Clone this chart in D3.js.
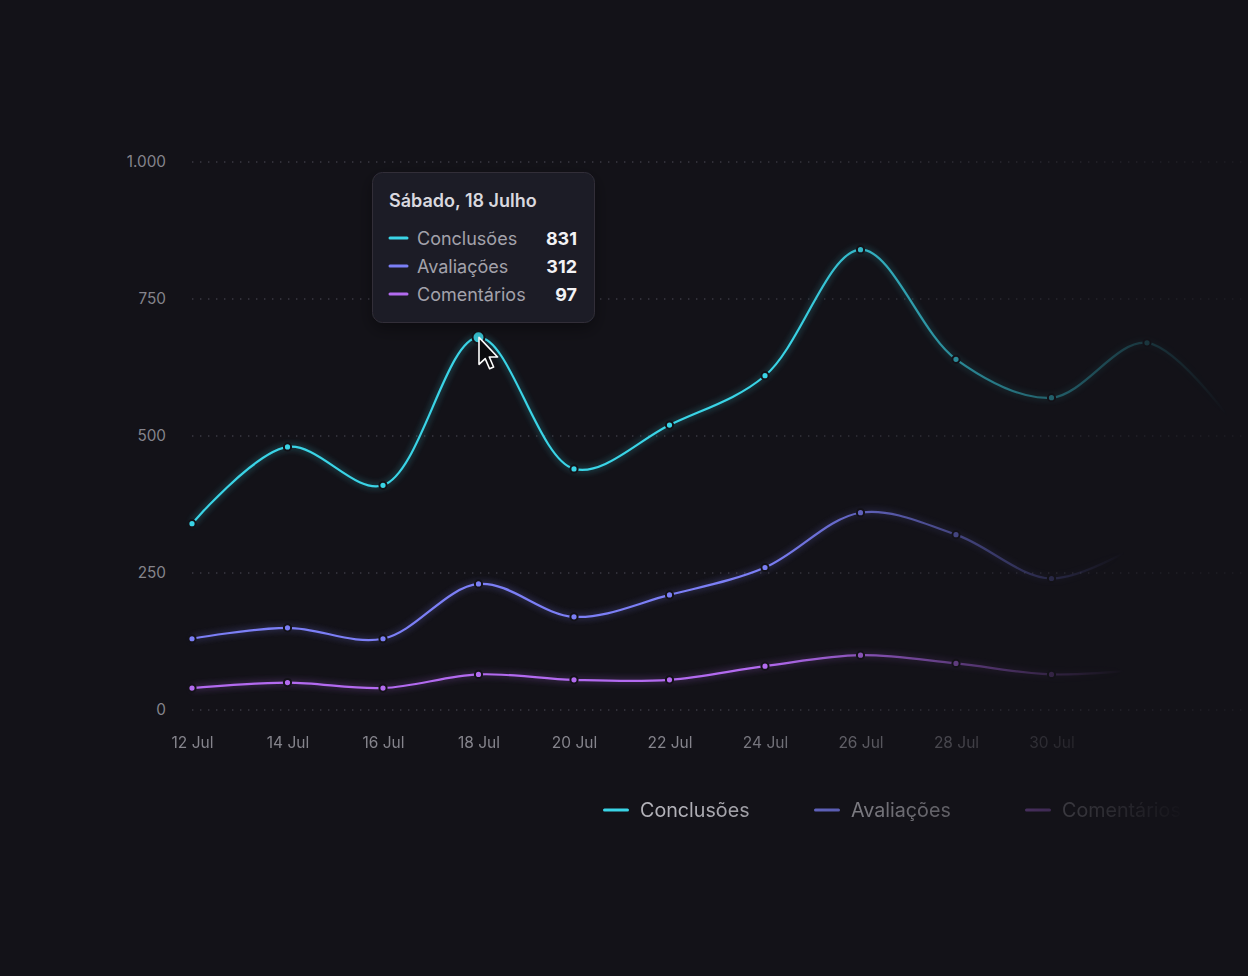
<!DOCTYPE html>
<html><head><meta charset="utf-8">
<script src="https://cdn.jsdelivr.net/npm/d3@7"></script>
<style>
html,body{margin:0;padding:0;background:#131218;}
svg{display:block;font-family:Inter,"Noto Sans",sans-serif;}
</style></head><body>
<svg id="c" width="1248" height="976"></svg>
<script>
// ---- data ----
const categories = ["12 Jul","14 Jul","16 Jul","18 Jul","20 Jul","22 Jul","24 Jul","26 Jul","28 Jul","30 Jul","1 Ago","3 Ago"];
const xTickLabels = ["12 Jul","14 Jul","16 Jul","18 Jul","20 Jul","22 Jul","24 Jul","26 Jul","28 Jul","30 Jul"];
const conclusoes  = [340,480,410,680,440,520,610,840,640,570,670,500];
const avaliacoes  = [130,150,130,230,170,210,260,360,320,240,310];
const comentarios = [40,50,40,65,55,55,80,100,85,65,75];
const yTicks = [0,250,500,750,1000];
const seriesNames = ["Conclusões","Avaliações","Comentários"];
const tooltipTitle = "Sábado, 18 Julho";
const tooltipValues = [831,312,97];
const hoverCategory = "18 Jul";

// ---- setup ----
const W=1248,H=976, bg="#131218";
const colors=["#3ad4e6","#7b7ff6","#b36bf0"];
const svg=d3.select("#c");
svg.append("rect").attr("width",W).attr("height",H).attr("fill",bg);
const defs=svg.append("defs");

const x=d3.scalePoint().domain(categories).range([192,1242.5]);
const y=d3.scaleLinear().domain([0,1000]).range([710,162]);

function fadeMask(id,x0,x1,endOpacity){
  const g=defs.append("linearGradient").attr("id",id+"-g").attr("gradientUnits","userSpaceOnUse")
    .attr("x1",x0).attr("x2",x1).attr("y1",0).attr("y2",0);
  g.append("stop").attr("offset",0).attr("stop-color","#fff").attr("stop-opacity",1);
  g.append("stop").attr("offset",1).attr("stop-color","#fff").attr("stop-opacity",endOpacity);
  const m=defs.append("mask").attr("id",id).attr("maskUnits","userSpaceOnUse")
    .attr("x",0).attr("y",0).attr("width",W).attr("height",H);
  m.append("rect").attr("width",W).attr("height",H).attr("fill",`url(#${id}-g)`);
  return `url(#${id})`;
}

// glow filter
const f=defs.append("filter").attr("id","glow").attr("filterUnits","userSpaceOnUse")
  .attr("x",0).attr("y",0).attr("width",W).attr("height",H);
f.append("feGaussianBlur").attr("in","SourceGraphic").attr("stdDeviation",3.5).attr("result","b");
f.append("feComponentTransfer").attr("in","b").attr("result","b2").append("feFuncA").attr("type","linear").attr("slope",0.6);
const mg=f.append("feMerge"); mg.append("feMergeNode").attr("in","b2"); mg.append("feMergeNode").attr("in","SourceGraphic");

// shadow for tooltip
const sh=defs.append("filter").attr("id","shadow").attr("x","-20%").attr("y","-20%").attr("width","140%").attr("height","150%");
sh.append("feDropShadow").attr("dx",0).attr("dy",6).attr("stdDeviation",8).attr("flood-color","#000").attr("flood-opacity",0.35);

// ---- grid ----
const grid=svg.append("g").attr("mask",fadeMask("gridFade",700,1250,0.25));
grid.selectAll("line").data(yTicks).join("line")
  .attr("x1",192).attr("x2",1242).attr("y1",d=>y(d)).attr("y2",d=>y(d))
  .attr("stroke","#3b3a43").attr("stroke-width",1.4).attr("stroke-dasharray","1.4 6.6");

// ---- y axis ----
const fmt=d3.formatLocale({decimal:",",thousands:".",grouping:[3],currency:["R$",""]}).format(",d");
const yAxis=svg.append("g").attr("transform","translate(192,0)")
  .call(d3.axisLeft(y).tickValues(yTicks).tickSize(0).tickPadding(26).tickFormat(fmt));
yAxis.select(".domain").remove();
yAxis.attr("font-family","Inter, 'Noto Sans', sans-serif").attr("font-size",15.3);
yAxis.selectAll("text").attr("fill","#85848c");

// ---- x axis ----
const xAxis=svg.append("g").attr("transform","translate(0,710)").attr("mask",fadeMask("xFade",700,1150,0))
  .call(d3.axisBottom(x).tickValues(xTickLabels).tickSize(0).tickPadding(27));
xAxis.select(".domain").remove();
xAxis.attr("font-family","Inter, 'Noto Sans', sans-serif").attr("font-size",15.5);
xAxis.selectAll("text").attr("fill","#85848c");

// ---- series ----
const series=[
  {name:seriesNames[0], values:conclusoes, color:colors[0], fade:[790,1228]},
  {name:seriesNames[1], values:avaliacoes, color:colors[1], fade:[765,1125]},
  {name:seriesNames[2], values:comentarios, color:colors[2], fade:[765,1125]},
];
const line=d3.line().x((d,i)=>x(categories[i])).y(d=>y(d)).curve(d3.curveCatmullRom.alpha(0.5));

series.slice().reverse().forEach((s,k)=>{
  const g=svg.append("g").attr("mask",fadeMask("sFade"+k,s.fade[0],s.fade[1],0));
  g.append("path").attr("d",line(s.values)).attr("fill","none").attr("stroke",s.color)
    .attr("stroke-width",2.2).attr("filter","url(#glow)");
  g.selectAll("circle").data(s.values).join("circle")
    .attr("cx",(d,i)=>x(categories[i])).attr("cy",d=>y(d))
    .attr("r",(d,i)=>categories[i]===hoverCategory && s===series[0]?6:3.6)
    .attr("fill",(d,i)=>categories[i]===hoverCategory && s===series[0]?"#38c4d4":s.color)
    .attr("stroke",bg).attr("stroke-width",2);
});

// ---- cursor ----
const hx=x(hoverCategory), hy=y(conclusoes[categories.indexOf(hoverCategory)]);
svg.append("path").attr("transform",`translate(${hx+0.5},${hy})`)
  .attr("d","M0,0 L0,27 L6.2,21.2 L10.6,31.4 L14.6,29.7 L10.3,19.6 L18.6,19.6 Z")
  .attr("fill","#0b0b0e").attr("stroke","#fff").attr("stroke-width",1.6).attr("stroke-linejoin","round");

// ---- tooltip ----
const tt=svg.append("g").attr("transform","translate(372,172)");
tt.append("rect").attr("x",0.5).attr("y",0.5).attr("width",222).attr("height",150).attr("rx",10)
  .attr("fill","#1d1c25").attr("stroke","#302f39").attr("filter","url(#shadow)");
tt.append("text").attr("x",17).attr("y",35).text(tooltipTitle)
  .attr("fill","#d9d8df").attr("font-size",18).attr("font-weight",600);
const rows=tt.selectAll("g.row").data(seriesNames).join("g").attr("class","row")
  .attr("transform",(d,i)=>`translate(0,${66+i*28})`);
rows.append("line").attr("x1",18).attr("x2",35).attr("y1",0).attr("y2",0)
  .attr("stroke",(d,i)=>colors[i]).attr("stroke-width",3).attr("stroke-linecap","round");
rows.append("text").attr("x",45).attr("y",6.5).text(d=>d).attr("fill","#a3a2ab").attr("font-size",18);
rows.append("text").attr("x",205).attr("y",6.5).attr("text-anchor","end").text((d,i)=>tooltipValues[i])
  .attr("fill","#f2f2f5").attr("font-size",18).attr("font-weight",700);

// ---- legend ----
const lg=svg.append("g").attr("mask",fadeMask("legFade",680,1190,0));
const li=lg.selectAll("g").data(seriesNames).join("g").attr("transform",(d,i)=>`translate(${603+i*211},810)`);
li.append("line").attr("x1",1.5).attr("x2",24.5).attr("y1",0).attr("y2",0)
  .attr("stroke",(d,i)=>colors[i]).attr("stroke-width",3).attr("stroke-linecap","round");
li.append("text").attr("x",37).attr("y",6.5).text(d=>d).attr("fill","#b3b2b9").attr("font-size",19.7);
</script>
</body></html>
